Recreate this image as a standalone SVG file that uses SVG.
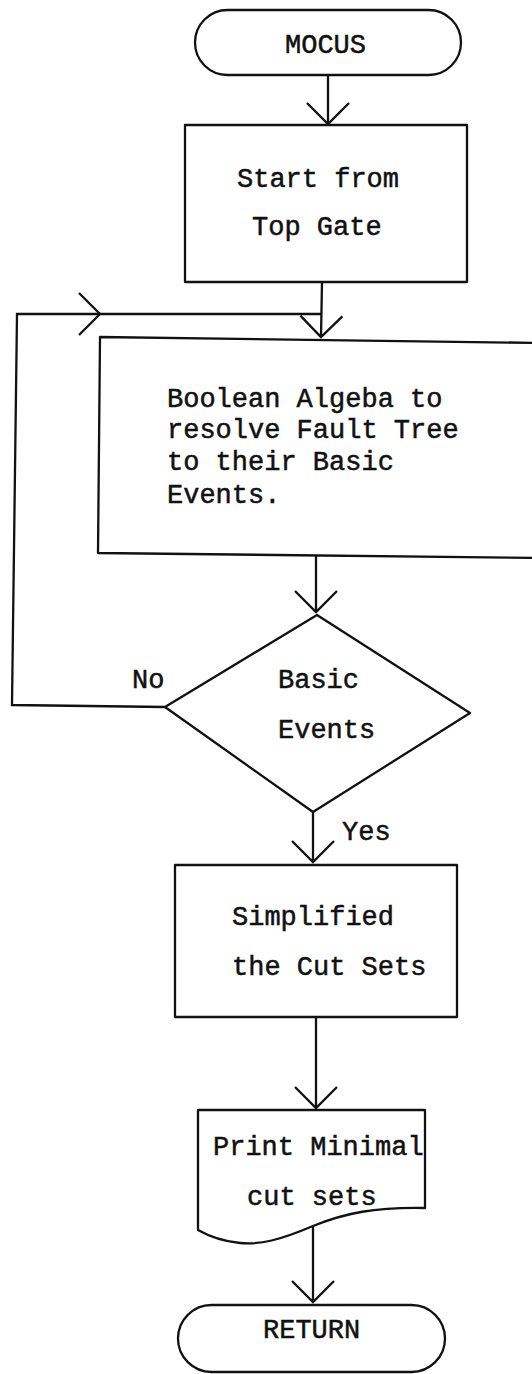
<svg xmlns="http://www.w3.org/2000/svg" width="532" height="1374" viewBox="0 0 532 1374">
<style>
.s{fill:#fff;stroke:#111;stroke-width:2.3;stroke-linejoin:round}
.c{fill:none;stroke:#111;stroke-width:2.3}
.t{font-family:"Liberation Mono","Courier New",monospace;font-size:27px;fill:#111;stroke:#111;stroke-width:0.5}
</style>
<defs>
<marker id="ah" markerUnits="userSpaceOnUse" viewBox="-26 -26 30 52" refX="0" refY="0" markerWidth="30" markerHeight="52" orient="auto" overflow="visible">
<path d="M-21,-21 L0,0 L-21,21" fill="none" stroke="#111" stroke-width="2.3"/>
</marker>
</defs>
<rect width="532" height="1374" fill="#fff"/>
<g id="connectors">
<path class="c" d="M328,75 L328,124" marker-end="url(#ah)"/>
<path class="c" d="M322,282 L321,337" marker-end="url(#ah)"/>
<path class="c" d="M165,707 L12,705 L17,314 L100,314" marker-end="url(#ah)"/>
<path class="c" d="M100,314 L321,314"/>
<path class="c" d="M316,556 L316,612" marker-end="url(#ah)"/>
<path class="c" d="M313,812 L313,862" marker-end="url(#ah)"/>
<path class="c" d="M316,1017 L316,1108" marker-end="url(#ah)"/>
<path class="c" d="M313,1226 L313,1302" marker-end="url(#ah)"/>
</g>
<g id="mocus">
<rect class="s" x="195" y="10" width="266" height="65" rx="32.5"/>
<text class="t" x="285" y="53">MOCUS</text>
</g>
<g id="start">
<rect class="s" x="185" y="125" width="282" height="157"/>
<text class="t" x="237" y="187">Start from</text>
<text class="t" x="252" y="235">Top Gate</text>
</g>
<g id="boolean">
<path class="s" d="M545,343 L100,337 L98,553 L545,558"/>
<text class="t" x="167" y="407">Boolean Algeba to</text>
<text class="t" x="167" y="438">resolve Fault Tree</text>
<text class="t" x="167" y="470">to their Basic</text>
<text class="t" x="167" y="503">Events.</text>
</g>
<g id="decision">
<polygon class="s" points="317,615 470,713 313,812 165,707"/>
<text class="t" x="278" y="688">Basic</text>
<text class="t" x="278" y="738">Events</text>
<text class="t" x="132" y="688">No</text>
<text class="t" x="342" y="840">Yes</text>
</g>
<g id="simplify">
<rect class="s" x="175" y="865" width="282" height="152"/>
<text class="t" x="232" y="925">Simplified</text>
<text class="t" x="232" y="975">the Cut Sets</text>
</g>
<g id="print">
<path class="s" d="M198,1110 H425 V1208 C375,1207 345,1213 313,1226 C280,1240 260,1245 240,1243 C220,1241 205,1234 198,1230 Z"/>
<text class="t" x="213" y="1155">Print Minimal</text>
<text class="t" x="247" y="1205">cut sets</text>
</g>
<g id="return">
<rect class="s" x="178" y="1305" width="267" height="67" rx="33.5"/>
<text class="t" x="263" y="1338">RETURN</text>
</g>
</svg>
